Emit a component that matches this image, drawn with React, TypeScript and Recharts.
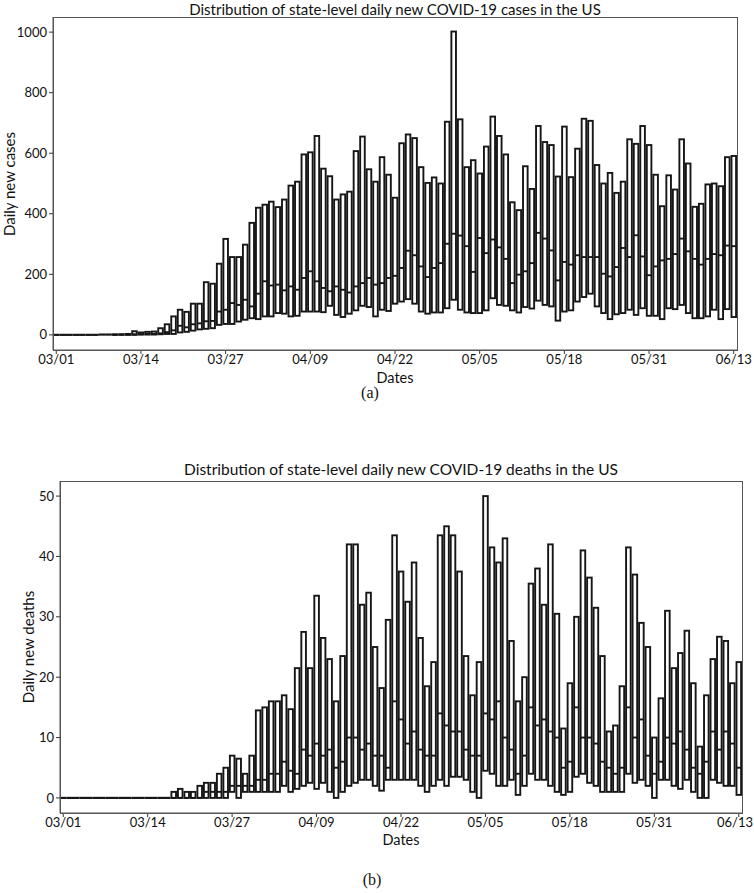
import React from "react";
import { Bar, ComposedChart, XAxis, YAxis } from "recharts";

// day labels, 03/01 .. 06/13
const DATES = [
  "03/01","03/02","03/03","03/04","03/05","03/06","03/07","03/08","03/09","03/10","03/11","03/12","03/13","03/14","03/15","03/16",
  "03/17","03/18","03/19","03/20","03/21","03/22","03/23","03/24","03/25","03/26","03/27","03/28","03/29","03/30","03/31",
  "04/01","04/02","04/03","04/04","04/05","04/06","04/07","04/08","04/09","04/10","04/11","04/12","04/13","04/14","04/15",
  "04/16","04/17","04/18","04/19","04/20","04/21","04/22","04/23","04/24","04/25","04/26","04/27","04/28","04/29","04/30",
  "05/01","05/02","05/03","05/04","05/05","05/06","05/07","05/08","05/09","05/10","05/11","05/12","05/13","05/14","05/15",
  "05/16","05/17","05/18","05/19","05/20","05/21","05/22","05/23","05/24","05/25","05/26","05/27","05/28","05/29","05/30",
  "05/31","06/01","06/02","06/03","06/04","06/05","06/06","06/07","06/08","06/09","06/10","06/11","06/12","06/13",
];

// daily new cases: first quartile, median, third quartile across states
const CASES_Q1 = [
  0,0,0,0,0,0,0,0,0,0,0,0,0,1,1,1,2,3,3,8,10,14,18,20,22,33,36,36,44,50,55,52,61,61,72,70,61,63,77,77,77,75,96,66,59,70,81,96,
  92,61,83,79,103,110,118,103,77,70,74,74,88,116,83,74,72,72,81,121,99,96,81,74,92,87,113,99,94,
  47,77,81,110,125,136,94,72,52,68,72,83,66,88,63,63,52,88,85,99,72,55,55,61,83,52,85,59,
];
const CASES_MED = [
  0,0,0,0,0,0,0,0,0,0,1,1,2,2,3,3,5,9,15,30,25,35,38,45,46,77,83,105,99,116,94,136,177,163,166,147,160,149,188,210,177,155,144,160,149,140,160,171,
  188,166,171,188,195,221,278,263,226,191,221,237,301,334,328,293,208,320,270,315,289,251,171,199,210,237,337,318,279,
  180,241,232,263,257,257,257,202,193,224,287,257,329,259,197,226,246,251,267,318,276,251,232,251,267,263,295,293,
];
const CASES_Q3 = [
  0,0,0,0,0,0,0,1,1,2,2,3,12,8,10,11,22,35,61,83,76,103,103,174,169,235,317,257,257,298,370,420,430,440,422,447,493,506,596,603,657,549,524,447,464,473,607,655,
  547,506,587,529,453,633,662,650,554,502,520,500,704,1002,712,554,577,533,622,721,657,596,438,412,557,482,690,637,627,
  523,688,521,615,714,707,561,500,535,469,506,646,631,690,627,529,425,527,480,646,566,423,433,497,500,491,587,591,
];

// daily new deaths: first quartile, median, third quartile across states
const DEATHS_Q1 = [
  0,0,0,0,0,0,0,0,0,0,0,0,0,0,0,0,0,0,0,0,0,0,0,0,0,0,1,0,1,1,1,1,1,1,2,1,1.5,2,2.5,1.5,2.5,1,0,1,2,2.5,3,3,
  2,1.2,3,3,3,3,3,2,1,2,3,2,3.5,3.5,3,1,0,4.5,4,2,2,3,0.5,2,4,3,3,2,1,
  0.5,1,3.5,4,2.5,2,1,1,1,1,4,2.5,3,2,0,3,3,2,1.5,3,1,0,0,3,2.5,2,2,0.5,
];
const DEATHS_MED = [
  0,0,0,0,0,0,0,0,0,0,0,0,0,0,0,0,0,0,0,0,0,0,1,1,1,1,2,2,2,2,3,3,4,4,6,4.5,4,8,7,9,7,8,5,6,10,10,8,9,
  7,7,5,16,13,9,11,8,7,7,14,12,11,11,8,7,7,14,13,16,10,8,4,7,15,12,13,11,10,
  5,6,15,10,10,9,6,5,4,5,15,10,13,7,4,6,10,9,11,8,5,4,6,11,8,11,9,5,
];
const DEATHS_Q3 = [
  0,0,0,0,0,0,0,0,0,0,0,0,0,0,0,0,0,1,1.5,1,1,2,2.5,2.5,4,5,7,6.5,4,7,14.5,15,16,16,17,14.7,21.5,27.5,21.5,33.5,26.5,23,16,23.5,42,42,32,34,
  25,18.2,29.5,43.5,37.5,32.5,39,26.5,18.5,22.5,43.5,45,43.5,37.5,23.5,17,22.5,50,41.5,39,43,26,16,20,35.5,38,32,42,30.5,
  11.5,19,30,41,36.5,31.5,23.5,11,12,18.5,41.5,37,29,25,10,16.5,31,21.5,24,27.7,19,8.5,17,23,26.7,26,19,22.5,
];

const CASE_TICKS = [0, 200, 400, 600, 800, 1000];
const DEATH_TICKS = [0, 10, 20, 30, 40, 50];

const FONT = "Lato, 'Open Sans', sans-serif";
const INK = "#111";
const BOX = "#161616";
const SPINE = "#555";

type Row = { date: string; q1: number; med: number; q3: number };

function makeRows(q1: number[], med: number[], q3: number[]): Row[] {
  return DATES.map((date, i) => ({ date, q1: q1[i], med: med[i], q3: q3[i] }));
}

const caseRows = makeRows(CASES_Q1, CASES_MED, CASES_Q3);
const deathRows = makeRows(DEATHS_Q1, DEATHS_MED, DEATHS_Q3);

// box from q1 to q3 with the median drawn across it
function BoxShape(props: any) {
  const { x, y, width, height, payload } = props;
  if (x == null || y == null || !payload) return null;
  const top = Math.min(y, y + height);
  const h = Math.abs(height);
  const { q1, med, q3 } = payload as Row;
  const yMed = q3 > q1 ? top + (h * (q3 - med)) / (q3 - q1) : top;
  if (h < 0.5) {
    // flat box: draw it as a solid line that meets its neighbours
    return <line x1={x - 1} x2={x + width + 1} y1={top} y2={top} stroke={BOX} strokeWidth={2.2} />;
  }
  return (
    <g>
      <rect x={x} y={top} width={width} height={h} fill="#fff" stroke={BOX} strokeWidth={1.9} />
      <line x1={x} x2={x + width} y1={yMed} y2={yMed} stroke={BOX} strokeWidth={1.9} />
    </g>
  );
}

// date tick; keeps the last label inside the page
function DateTick(props: any) {
  const { x, y, payload, maxX } = props;
  const cx = Math.min(x, maxX);
  return (
    <text x={cx} y={y} dy="0.71em" textAnchor="middle" fontSize={13} fill={INK} fontFamily={FONT}>
      {payload.value}
    </text>
  );
}

function Txt({ x, y, children, size = 15, rotate = false, serif = false }: any) {
  return (
    <div
      style={{
        position: "absolute",
        left: x,
        top: y,
        transform: `translate(-50%, -50%)${rotate ? " rotate(-90deg)" : ""}`,
        whiteSpace: "nowrap",
        fontFamily: serif ? "'Liberation Serif', 'DejaVu Serif', serif" : FONT,
        fontSize: size,
        lineHeight: 1.1,
        color: INK,
      }}
    >
      {children}
    </div>
  );
}

// thin frame round the plot area, like the matplotlib spines
function Frame({ left, top, right, bottom }: any) {
  return (
    <div
      style={{
        position: "absolute",
        left,
        top,
        width: right - left,
        height: bottom - top,
        border: `1px solid ${SPINE}`,
        boxSizing: "border-box",
        pointerEvents: "none",
      }}
    />
  );
}

function BoxPanel({ data, domain, ticks, width, height, margin }: any) {
  const tick = { fontSize: 13, fill: INK, fontFamily: FONT };
  return (
    <ComposedChart width={width} height={height} data={data} margin={margin} barCategoryGap={0}>
      <XAxis
        dataKey="date"
        interval={12}
        height={30}
        tick={<DateTick maxX={width - 19} />}
        tickSize={4}
        tickMargin={1}
        tickLine={{ stroke: "#333" }}
        axisLine={{ stroke: SPINE }}
      />
      <YAxis
        type="number"
        domain={domain}
        ticks={ticks}
        width={45}
        tick={tick}
        tickSize={4}
        tickMargin={2}
        tickLine={{ stroke: "#333" }}
        axisLine={{ stroke: SPINE }}
        allowDataOverflow
      />
      <Bar
        dataKey={(d: Row) => [d.q1, d.q3]}
        barSize={4.6}
        shape={<BoxShape />}
        isAnimationActive={false}
      />
    </ComposedChart>
  );
}

export default function App() {
  return (
    <div style={{ position: "absolute", left: 0, top: 0, width: 754, height: 893, background: "#fff" }}>
      <div style={{ position: "absolute", left: 0, top: 0 }}>
        <BoxPanel
          data={caseRows}
          domain={[-50, 1050]}
          ticks={CASE_TICKS}
          width={754}
          height={390}
          margin={{ top: 17, right: 17, bottom: 10, left: 8 }}
        />
      </div>
      <Frame left={53} top={17} right={738} bottom={351} />
      <Txt x={395} y={9} size={15}>Distribution of state-level daily new COVID-19 cases in the US</Txt>
      <Txt x={9} y={184} rotate>Daily new cases</Txt>
      <Txt x={395} y={378} size={14.5}>Dates</Txt>
      <Txt x={370} y={393} size={16} serif>(a)</Txt>

      <div style={{ position: "absolute", left: 0, top: 455 }}>
        <BoxPanel
          data={deathRows}
          domain={[-2.5, 52.5]}
          ticks={DEATH_TICKS}
          width={754}
          height={400}
          margin={{ top: 26, right: 12, bottom: 12, left: 15 }}
        />
      </div>
      <Frame left={60} top={481} right={743} bottom={814} />
      <Txt x={401} y={470} size={15.5}>Distribution of state-level daily new COVID-19 deaths in the US</Txt>
      <Txt x={28} y={647} rotate>Daily new deaths</Txt>
      <Txt x={401} y={840} size={14.5}>Dates</Txt>
      <Txt x={372} y={880} size={16} serif>(b)</Txt>
    </div>
  );
}
